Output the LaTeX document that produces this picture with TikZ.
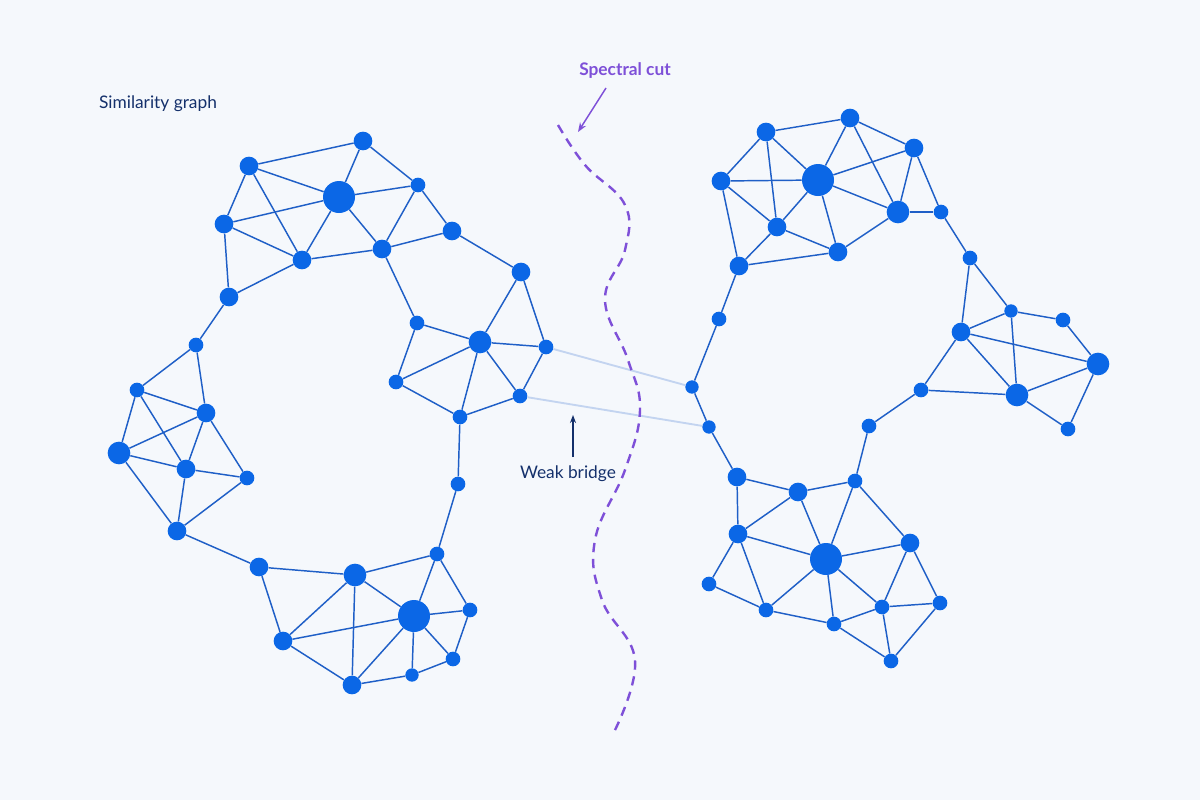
\documentclass[tikz,border=0pt]{standalone}
\usepackage{fontspec}
\setmainfont{Lato}
\usetikzlibrary{arrows.meta}
\begin{document}
\begin{tikzpicture}[x=0.75pt,y=-0.75pt,
  n/.style={circle,fill=nodeblue,inner sep=0pt,minimum size=12pt},
  s/.style={n,minimum size=11pt},
  m/.style={n,minimum size=14pt},
  l/.style={n,minimum size=17pt},
  xl/.style={n,minimum size=24pt},
  e/.style={draw=edgeblue,line width=1.1pt},
  br/.style={draw=bridgeblue,line width=1.4pt},
  lab/.style={font=\fontsize{13}{15}\selectfont,inner sep=0pt}]
\definecolor{nodeblue}{HTML}{0B67E6}
\definecolor{edgeblue}{HTML}{1F5FC7}
\definecolor{bridgeblue}{HTML}{C3D4F0}
\definecolor{cutpurple}{HTML}{7E50D8}
\definecolor{navy}{HTML}{14306B}
\fill[fill={rgb,255:red,245;green,248;blue,252}] (0,0) rectangle (1200,800);
\useasboundingbox (0,0) rectangle (1200,800);
% left upper
\node[m] (a1) at (363,141){}; \node[m] (a2) at (249,166){}; \node[xl] (a3) at (339,197){};
\node[s] (a4) at (418,185){}; \node[m] (a5) at (224,224){}; \node[m] (a6) at (302,260){};
\node[m] (a7) at (382,249){}; \node[m] (a8) at (452,231){}; \node[m] (a9) at (229,297){};
\node[m] (a10) at (521,272){}; \node[s] (a11) at (196,345){}; \node[s] (a12) at (417,323){};
\node[l] (a13) at (480,342){}; \node[s] (a14) at (546,347){}; \node[s] (a15) at (396,382){};
\node[s] (a16) at (520,396){}; \node[s] (a17) at (460,417){};
% left middle
\node[s] (c2) at (137,390){}; \node[m] (c3) at (206,413){}; \node[l] (c4) at (119,453){};
\node[m] (c5) at (186,469){}; \node[s] (c6) at (247,478){}; \node[m] (c7) at (177,531){};
% bottom left
\node[s] (b) at (458,484){};
\node[m] (d1) at (259,567){}; \node[l] (d2) at (355,575){}; \node[s] (d3) at (437,554){};
\node[xl] (d4) at (414,616){}; \node[s] (d5) at (470,610){}; \node[m] (d6) at (283,641){};
\node[s] (d7) at (453,659){}; \node[n,minimum size=10pt] (d8) at (412,675){}; \node[m] (d9) at (352,685){};
% right upper
\node[m] (e1) at (850,118){}; \node[m] (e2) at (766,132){}; \node[m] (e3) at (914,148){};
\node[m] (e4) at (721,181){}; \node[xl] (e5) at (818,180){}; \node[m] (e6) at (777,227){};
\node[l] (e7) at (898,212){}; \node[s] (e8) at (941,212){}; \node[m] (e9) at (838,252){};
\node[m] (e10) at (739,266){}; \node[s] (e11) at (719,319){}; \node[s] (e12) at (970,258){};
\node[n,minimum size=10pt] (f1) at (1011,311){}; \node[s] (f2) at (1063,320){}; \node[m] (f3) at (961,332){};
\node[l] (f4) at (1098,364){}; \node[s] (f5) at (921,390){}; \node[l] (f6) at (1017,395){};
\node[s] (f7) at (1068,429){};
\node[n,minimum size=10pt] (g1) at (692,387){}; \node[n,minimum size=10pt] (g2) at (709,427){};
\node[s] (h) at (869,426){};
% right bottom
\node[m] (i1) at (737,477){}; \node[m] (i2) at (798,492){}; \node[s] (i3) at (855,481){};
\node[m] (i4) at (738,534){}; \node[xl] (i5) at (826,559){}; \node[m] (i6) at (910,543){};
\node[s] (i7) at (709,584){}; \node[s] (i8) at (766,610){}; \node[s] (i9) at (882,607){};
\node[s] (i10) at (940,603){}; \node[s] (i11) at (834,624){}; \node[s] (i12) at (891,661){};
% bridges
\draw[br] (a14) -- (g1);
\draw[br] (a16) -- (g2);
% edges
\foreach \u/\v in {a2/a1,a1/a3,a1/a4,a2/a3,a2/a5,a2/a6,a5/a3,a5/a6,a5/a9,a3/a6,a3/a4,a3/a7,a4/a7,a4/a8,a6/a7,a7/a8,a8/a10,a7/a12,a6/a9,a9/a11,a12/a13,a12/a15,a13/a10,a10/a14,a13/a14,a13/a15,a13/a16,a13/a17,a14/a16,a15/a17,a16/a17,a17/b,
a11/c2,a11/c3,c2/c3,c2/c4,c2/c5,c3/c4,c3/c5,c3/c6,c4/c5,c4/c7,c5/c6,c5/c7,c6/c7,c7/d1,
b/d3,d1/d2,d1/d6,d2/d3,d2/d6,d2/d9,d2/d4,d3/d4,d3/d5,d4/d5,d4/d6,d4/d9,d4/d8,d4/d7,d5/d7,d7/d8,d8/d9,d6/d9,
e2/e1,e2/e4,e2/e5,e2/e6,e1/e5,e1/e3,e1/e7,e4/e5,e4/e6,e4/e10,e5/e3,e5/e6,e5/e7,e5/e9,e3/e7,e3/e8,e7/e8,e6/e10,e6/e9,e9/e7,e10/e9,e10/e11,e11/g1,g1/g2,e8/e12,e12/f3,e12/f1,f3/f1,f1/f2,f2/f4,f3/f4,f3/f6,f1/f6,f3/f5,f5/f6,f6/f4,f4/f7,f6/f7,f5/h,
g2/i1,i1/i2,i1/i4,i2/i3,i2/i4,i2/i5,i3/i5,i3/i6,h/i3,i4/i5,i4/i7,i4/i8,i5/i6,i5/i8,i5/i11,i5/i9,i6/i9,i6/i10,i7/i8,i8/i11,i11/i9,i9/i10,i9/i12,i10/i12,i11/i12}
  \draw[e] (\u) -- (\v);
% spectral cut
\draw[cutpurple,line width=1.8pt,dash pattern=on 7pt off 5pt]
 plot[smooth,tension=0.7] coordinates {(558,125) (585,165) (625,205) (625,250) (605,300) (628,360) (640,410) (625,470) (595,540) (602,600) (635,660) (615,730)};
\node[lab,text=cutpurple,font=\fontsize{13}{15}\selectfont\bfseries] (sc) at (625,71) {Spectral cut};
\coordinate (sct) at (578,132);
\coordinate (scs) at (606,88);
\draw[cutpurple,line width=1.1pt,-{Stealth[length=7pt]}] (scs) -- (sct);
\node[lab,text=navy] (sg) at (158,104) {Similarity graph};
\node[lab,text=navy] (wb) at (568,474) {Weak bridge};
\coordinate (wbt) at (573,415);
\coordinate (wbs) at (573,457);
\draw[navy,line width=1pt,-{Stealth[length=6pt]}] (wbs) -- (wbt);
\end{tikzpicture}
\end{document}
